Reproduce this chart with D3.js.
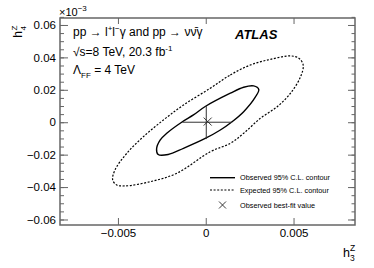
<!DOCTYPE html>
<html>
<head>
<meta charset="utf-8">
<script src="https://cdn.jsdelivr.net/npm/d3@7"></script>
<style>
  body { margin: 0; background: #fff; }
  svg text { font-family: "Liberation Sans", Arial, Helvetica, sans-serif; fill: #000; }
</style>
</head>
<body>
<div id="chart"></div>
<script>
// axis ranges and tick labels
const xDomain = [-0.0083, 0.0085];
const yDomain = [-0.0634, 0.0643];
const xTicks = [-0.005, 0, 0.005];
const yTicks = [-0.06, -0.04, -0.02, 0, 0.02, 0.04, 0.06];

// observed 95% C.L. contour (h3, h4)
const obsH3 = [0.00273, 0.00302, 0.00283, 0.00216, 0.00150, 0.00083, -0.00003, -0.00127,
  -0.00214, -0.00271, -0.00280, -0.00260, -0.00222, -0.00133, -0.00070, -0.00003, 0.00140, 0.00216];
const obsH4 = [0.0224, 0.0202, 0.0156, 0.0065, 0.0003, -0.0048, -0.0100, -0.0161,
  -0.0199, -0.0199, -0.0165, -0.0110, -0.0068, 0.0003, 0.0045, 0.0097, 0.0179, 0.0216];

// expected 95% C.L. contour
const expH3 = [0.00026, 0.00140, 0.00254, 0.00369, 0.00483, 0.00530, 0.00555, 0.00540,
  0.00483, 0.00407, 0.00311, 0.00216, 0.00140, 0.00026, -0.00165, -0.00317, -0.00460, -0.00507,
  -0.00530, -0.00517, -0.00450, -0.00355, -0.00241, -0.00127];
const expH4 = [0.0210, 0.0292, 0.0353, 0.0388, 0.0409, 0.0395, 0.0353, 0.0281,
  0.0179, 0.0096, 0.0024, -0.0068, -0.0130, -0.0182, -0.0315, -0.0367, -0.0393, -0.0387,
  -0.0356, -0.0295, -0.0192, -0.0089, 0.0014, 0.0106];

// best-fit point and 1D intervals through it
const bestFit = [0.00011, 0.0004];
const crossH3 = [-0.00133, 0.00150];   // horizontal segment at h4 = 0
const crossH4 = [-0.0104, 0.0100];     // vertical segment at h3 = 0.00003
const crossAt = [0.00003, 0.0];

const legendLabels = ['Observed 95% C.L. contour', 'Expected 95% C.L. contour', 'Observed best-fit value'];

const W = 374, H = 268;
const margin = {left: 60, right: 19, top: 18, bottom: 43};

const svg = d3.select('#chart').append('svg')
  .attr('width', W)
  .attr('height', H);

const x = d3.scaleLinear().domain(xDomain).range([margin.left, W - margin.right]);
const y = d3.scaleLinear().domain(yDomain).range([H - margin.bottom, margin.top]);

const frameColor = '#666';

// axes (ticks point inside like ROOT)
const yMinor = d3.range(-0.06, 0.0651, 0.005);

function styleAxis(g) {
  g.select('.domain').remove();
  g.selectAll('line').attr('stroke', frameColor);
  g.selectAll('text').attr('font-size', 11.5).style('font-family', '"Liberation Sans", Arial, sans-serif');
}

svg.append('g')
  .attr('transform', `translate(${margin.left},0)`)
  .call(d3.axisLeft(y).tickValues(yMinor).tickSize(-4).tickFormat(''))
  .call(styleAxis);
svg.append('g')
  .attr('transform', `translate(${margin.left},0)`)
  .call(d3.axisLeft(y).tickValues(yTicks).tickSize(-8).tickPadding(4)
    .tickFormat((d) => d === 0 ? '0' : d3.format('.2f')(d)))
  .call(styleAxis);
svg.append('g')
  .attr('transform', `translate(${W - margin.right},0)`)
  .call(d3.axisRight(y).tickValues(yMinor).tickSize(-3.5).tickFormat(''))
  .call(styleAxis);
svg.append('g')
  .attr('transform', `translate(${W - margin.right},0)`)
  .call(d3.axisRight(y).tickValues(yTicks).tickSize(-7).tickFormat(''))
  .call(styleAxis);
svg.append('g')
  .attr('transform', `translate(0,${H - margin.bottom})`)
  .call(d3.axisBottom(x).tickValues(xTicks).tickSize(-7).tickPadding(4)
    .tickFormat((d) => d === 0 ? '0' : d3.format('.3f')(d)))
  .call(styleAxis);
svg.append('g')
  .attr('transform', `translate(0,${margin.top})`)
  .call(d3.axisTop(x).tickValues(xTicks).tickSize(-6).tickFormat(''))
  .call(styleAxis);

svg.append('rect')
  .attr('x', margin.left)
  .attr('y', margin.top)
  .attr('width', W - margin.left - margin.right)
  .attr('height', H - margin.top - margin.bottom)
  .attr('fill', 'none')
  .attr('stroke', frameColor)
  .attr('stroke-width', 1.5);

// contours
const contour = d3.line()
  .x((d) => x(d[0]))
  .y((d) => y(d[1]))
  .curve(d3.curveCatmullRomClosed.alpha(0.5));

svg.append('path')
  .datum(expH3.map((v, i) => [v, expH4[i]]))
  .attr('d', contour)
  .attr('fill', 'none')
  .attr('stroke', '#000')
  .attr('stroke-width', 1.2)
  .attr('stroke-dasharray', '2,1.6');

svg.append('path')
  .datum(obsH3.map((v, i) => [v, obsH4[i]]))
  .attr('d', contour)
  .attr('fill', 'none')
  .attr('stroke', '#000')
  .attr('stroke-width', 1.4);

// 1D intervals
svg.append('line')
  .attr('x1', x(crossH3[0])).attr('x2', x(crossH3[1]))
  .attr('y1', y(crossAt[1])).attr('y2', y(crossAt[1]))
  .attr('stroke', '#333').attr('stroke-width', 1);
svg.append('line')
  .attr('x1', x(crossAt[0])).attr('x2', x(crossAt[0]))
  .attr('y1', y(crossH4[0])).attr('y2', y(crossH4[1]))
  .attr('stroke', '#333').attr('stroke-width', 1);

// best-fit marker
function drawX(cx, cy, r) {
  svg.append('path')
    .attr('d', `M${cx - r},${cy - r}L${cx + r},${cy + r}M${cx - r},${cy + r}L${cx + r},${cy - r}`)
    .attr('stroke', '#222')
    .attr('stroke-width', 0.9)
    .attr('fill', 'none');
}
drawX(x(bestFit[0]), y(bestFit[1]), 4);

// axis titles
const yt = svg.append('g').attr('transform', 'translate(22,18) rotate(-90)');
yt.append('text').attr('x', -13).attr('y', 0).attr('text-anchor', 'end').attr('font-size', 12).text('h');
yt.append('text').attr('x', -12.5).attr('y', -5).attr('font-size', 8).text('Z');
yt.append('text').attr('x', -12.5).attr('y', 3.5).attr('font-size', 8).text('4');

const xt = svg.append('g').attr('transform', 'translate(343,257)');
xt.append('text').attr('x', 0).attr('y', 0).attr('font-size', 12.5).text('h');
xt.append('text').attr('x', 7).attr('y', -6).attr('font-size', 8.5).text('Z');
xt.append('text').attr('x', 7).attr('y', 3.5).attr('font-size', 8.5).text('3');

const exp10 = svg.append('text').attr('x', 59).attr('y', 16).attr('font-size', 11);
exp10.append('tspan').text('×10');
exp10.append('tspan').attr('font-size', 8).attr('dy', -5).text('−3');

// annotation
const t1 = svg.append('text').attr('x', 73).attr('y', 36).attr('font-size', 12);
t1.append('tspan').text('pp → l');
t1.append('tspan').attr('font-size', 8).attr('dy', -5).text('+');
t1.append('tspan').attr('dy', 5).text('l');
t1.append('tspan').attr('font-size', 8).attr('dy', -5).text('−');
t1.append('tspan').attr('dy', 5).text('γ and pp → νν\u0304γ');

const t2 = svg.append('text').attr('x', 73).attr('y', 56).attr('font-size', 12);
t2.append('tspan').text('√s=8 TeV, 20.3 fb');
t2.append('tspan').attr('font-size', 8).attr('dy', -5).text('-1');

const t3 = svg.append('text').attr('x', 73).attr('y', 74).attr('font-size', 12);
t3.append('tspan').text('Λ');
t3.append('tspan').attr('font-size', 8).attr('dy', 4).text('FF');
t3.append('tspan').attr('dy', -4).text(' = 4 TeV');

svg.append('text')
  .attr('x', 235).attr('y', 39)
  .attr('font-size', 13)
  .attr('font-weight', 'bold')
  .attr('font-style', 'italic')
  .text('ATLAS');

// legend
const legY = [177.7, 190, 205];
const leg = svg.append('g');
leg.append('line').attr('x1', 210).attr('x2', 235).attr('y1', legY[0]).attr('y2', legY[0])
  .attr('stroke', '#000').attr('stroke-width', 1.4);
leg.append('line').attr('x1', 210).attr('x2', 235).attr('y1', legY[1]).attr('y2', legY[1])
  .attr('stroke', '#000').attr('stroke-width', 1.2).attr('stroke-dasharray', '2,1.6');
drawX(222.5, legY[2], 3.5);
leg.selectAll('text.lab').data(legendLabels).join('text')
  .attr('class', 'lab')
  .attr('x', 240)
  .attr('y', (d, i) => legY[i] + 2.6)
  .attr('font-size', 7.3)
  .text((d) => d);
</script>
</body>
</html>
